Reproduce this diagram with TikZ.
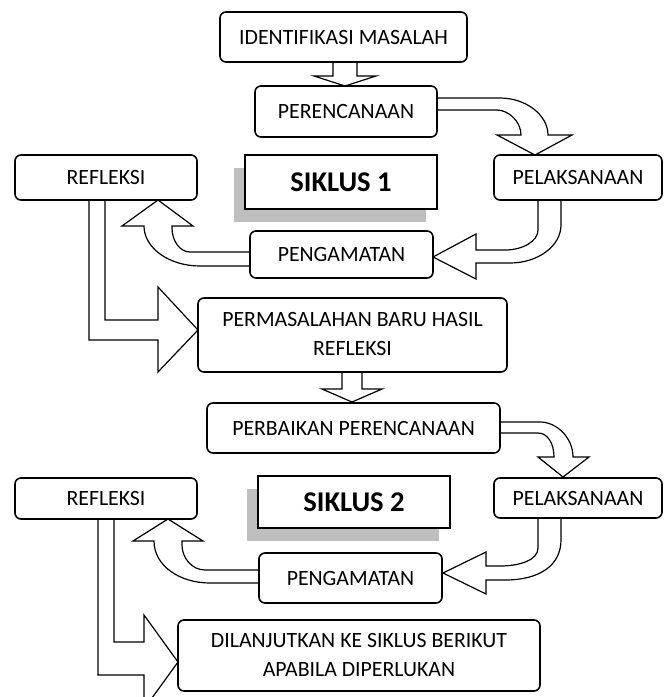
\documentclass[tikz,border=0pt]{standalone}
\usepackage{fontspec}
\setmainfont{Carlito}
\tikzset{kotak/.style={draw, rounded corners=3pt, fill=white, line width=0.8pt, inner sep=0pt, align=center, font=\fontsize{10.9}{14.5}\selectfont},
         siklus/.style={draw, fill=white, line width=0.9pt, inner sep=0pt, font=\fontsize{14.3}{18}\selectfont\bfseries},
         bayang/.style={fill=black!25},
         panah/.style={draw, fill=white, line width=0.6pt, line join=miter}}

\begin{document}
\begin{tikzpicture}[x=0.5pt,y=-0.5pt]
     \useasboundingbox (0,0) rectangle (666,697);
     \clip (0,0) rectangle (666,697);
     % bayangan
     \fill[bayang] (234,168) rectangle (426,222);
     \fill[bayang] (247,489) rectangle (439,541);
     % siklus 1
     \draw[panah] (333,62) -- (333,76) -- (314,76) -- (345,86) -- (376,76) -- (357,76) -- (357,62) -- cycle;
     \draw[panah] (437,98) -- (500,98) .. controls (526,98) and (548,115) .. (548,135) -- (572,135) -- (535,155) -- (497,135) -- (521,135) .. controls (521,121) and (508,110) .. (497,110) -- (437,110) -- cycle;
     \draw[panah] (538,200) -- (538,230) .. controls (538,241) and (523,250) .. (505,250) -- (476,250) -- (476,234) -- (433,257) -- (476,279) -- (476,263) -- (510,263) .. controls (538,263) and (561,246) .. (561,225) -- (561,200) -- cycle;
     \draw[panah] (250,252) -- (190,252) .. controls (180,252) and (172,241) .. (172,228) -- (172,226) -- (193,226) -- (158,200) -- (122,226) -- (144,226) .. controls (144,248) and (169,266) .. (200,266) -- (250,266) -- cycle;
     \draw[panah] (89,200) -- (89,340) -- (158,340) -- (158,372) -- (198,330) -- (158,287) -- (158,320) -- (105,320) -- (105,200) -- cycle;
     % siklus 2
     \draw[panah] (342,372) -- (342,389) -- (322,389) -- (352,402) -- (382,389) -- (362,389) -- (362,372) -- cycle;
     \draw[panah] (500,422) -- (540,422) .. controls (557,422) and (573,438) .. (573,457) -- (589,457) -- (563,477) -- (538,457) -- (554,457) .. controls (554,444) and (548,433) .. (538,433) -- (500,433) -- cycle;
     \draw[panah] (538,518) -- (538,548) .. controls (538,560) and (520,566) .. (500,566) -- (486,566) -- (486,552) -- (443,573) -- (486,594) -- (486,580) -- (505,580) .. controls (540,580) and (561,565) .. (561,540) -- (561,518) -- cycle;
     \draw[panah] (259,570) -- (205,570) .. controls (192,570) and (182,558) .. (182,545) -- (182,541) -- (203,541) -- (168,519) -- (133,541) -- (154,541) .. controls (154,566) and (180,583) .. (210,583) -- (259,583) -- cycle;
     \draw[panah] (98,519) -- (98,675) -- (144,675) -- (144,709) -- (178,662) -- (144,615) -- (144,642) -- (114,642) -- (114,519) -- cycle;
     % kotak
     \node[kotak, minimum width=123.5pt, minimum height=25pt] (idm) at (343.5,37) {IDENTIFIKASI MASALAH};
     \node[kotak, minimum width=91pt, minimum height=25.5pt] (ren) at (346,111.5) {PERENCANAAN};
     \node[kotak, minimum width=91pt, minimum height=22.5pt] (ref1) at (106,177.5) {REFLEKSI};
     \node[siklus, minimum width=96pt, minimum height=27pt] (sik1) at (341,182) {SIKLUS 1};
     \node[kotak, minimum width=84pt, minimum height=22.5pt] (pel1) at (578,177.5) {PELAKSANAAN};
     \node[kotak, minimum width=91.5pt, minimum height=23.5pt] (pen1) at (341.5,254.5) {PENGAMATAN};
     \node[kotak, minimum width=154.5pt, minimum height=37pt, text depth=1pt] (per) at (352.5,335) {PERMASALAHAN BARU HASIL\\REFLEKSI};
     \node[kotak, minimum width=146.5pt, minimum height=25pt] (pbk) at (353.5,428) {PERBAIKAN PERENCANAAN};
     \node[kotak, minimum width=91pt, minimum height=20.5pt] (ref2) at (106,498.5) {REFLEKSI};
     \node[siklus, minimum width=96pt, minimum height=26pt] (sik2) at (354,502) {SIKLUS 2};
     \node[kotak, minimum width=84pt, minimum height=20pt] (pel2) at (578,498) {PELAKSANAAN};
     \node[kotak, minimum width=91.5pt, minimum height=25pt] (pen2) at (350.5,578) {PENGAMATAN};
     \node[kotak, minimum width=181pt, minimum height=35.5pt, text depth=1pt] (dil) at (359,655.5) {DILANJUTKAN KE SIKLUS BERIKUT\\APABILA DIPERLUKAN};
\end{tikzpicture}
\end{document}
